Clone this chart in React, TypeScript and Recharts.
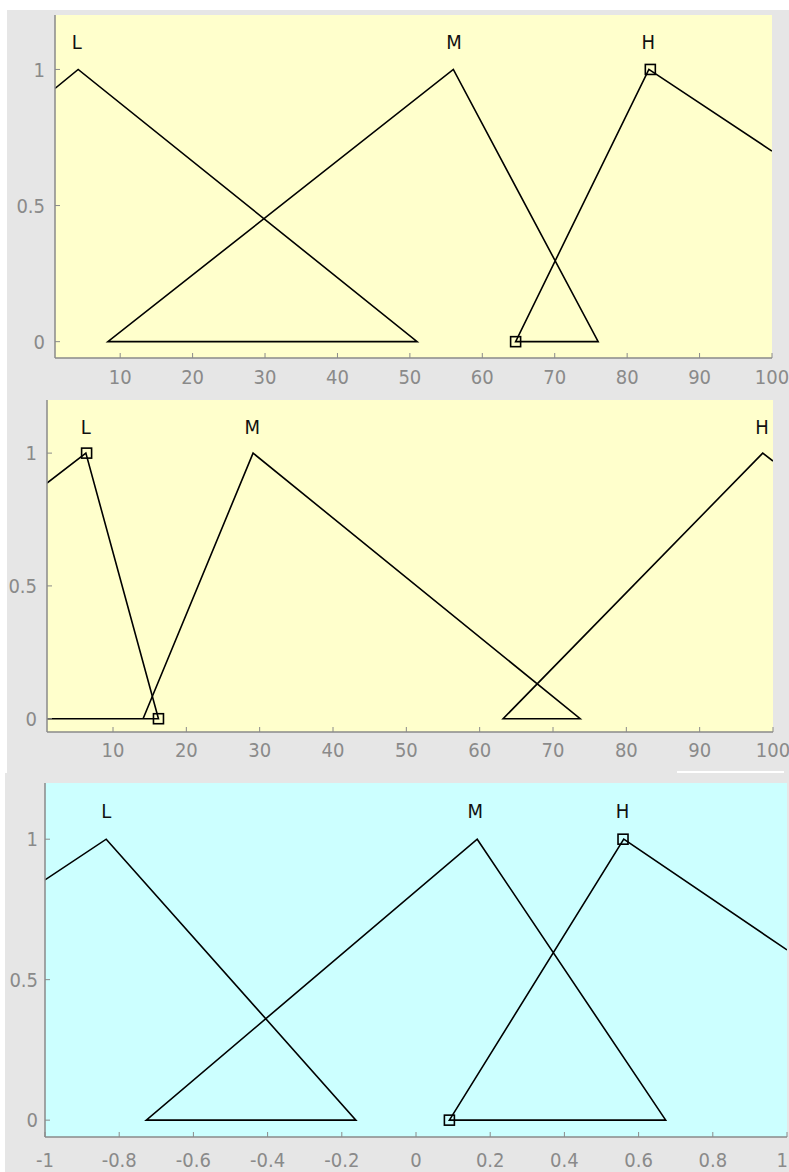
import { ComposedChart, Line, Scatter, XAxis, YAxis, CartesianGrid, ReferenceDot } from 'recharts';

const mfNames = ['L', 'M', 'H'];

// panel 1 - yellow, input 0..100
const p1Curve = [
  { x: 1, y: 0.93 }, { x: 4.2, y: 1 }, { x: 51, y: 0 }, { x: 8.3, y: 0 },
  { x: 56, y: 1 }, { x: 76, y: 0 }, { x: 64.6, y: 0 }, { x: 83, y: 1 }, { x: 100, y: 0.7 },
];
const p1Marks = [{ x: 64.6, y: 0 }, { x: 83.2, y: 1 }];
const p1Peaks = [4.0, 56.1, 82.9];
const p1Ticks = [10, 20, 30, 40, 50, 60, 70, 80, 90, 100];

// panel 2 - yellow, input 0..100
const p2CurveA = [{ x: 1, y: 0.887 }, { x: 6.3, y: 1 }, { x: 16.2, y: 0 }, { x: 1, y: 0 }];
const p2CurveB = [
  { x: 14.1, y: 0 }, { x: 29.1, y: 1 }, { x: 73.7, y: 0 }, { x: 63.2, y: 0 },
  { x: 98.6, y: 1 }, { x: 100, y: 0.97 },
];
const p2Marks = [{ x: 6.4, y: 1 }, { x: 16.2, y: 0 }];
const p2Peaks = [6.3, 29.0, 98.5];

// panel 3 - cyan, output -1..1
const p3Curve = [
  { x: -1, y: 0.855 }, { x: -0.835, y: 1 }, { x: -0.162, y: 0 }, { x: -0.727, y: 0 },
  { x: 0.165, y: 1 }, { x: 0.673, y: 0 }, { x: 0.09, y: 0 }, { x: 0.56, y: 1 }, { x: 1, y: 0.606 },
];
const p3Marks = [{ x: 0.09, y: 0 }, { x: 0.558, y: 1 }];
const p3Peaks = [-0.835, 0.16, 0.557];
const p3Ticks = [-1, -0.8, -0.6, -0.4, -0.2, 0, 0.2, 0.4, 0.6, 0.8, 1];

const yTicks = [0, 0.5, 1];

const FONT = "'Liberation Sans Narrow', 'Arial Narrow', 'DejaVu Sans Condensed', Arial, sans-serif";
const AXIS = '#8a8a8a';
const tickStyle = { fill: AXIS, fontSize: 20, fontFamily: FONT };

const squareShape = (props: any) => (
  <rect x={props.cx - 5} y={props.cy - 5} width={10} height={10} fill="none" stroke="#000" strokeWidth={1.6} />
);

// bottom tick label; the last label of the cyan panel is right-aligned so it stays inside the page
const XTick = ({ x, y, payload, lastEnd }: any) => {
  const atEnd = lastEnd !== undefined && payload.value === lastEnd;
  return (
    <text x={atEnd ? x + 1 : x} y={y} dy="0.71em" textAnchor={atEnd ? 'end' : 'middle'}
      fill={AXIS} fontSize={20} fontFamily={FONT}>
      {payload.value}
    </text>
  );
};

function MfPanel({ top, height, margin, yWidth, xHeight, xMargin, yMargin, domain, yDomain, xTicks, bg, curves, marks, peaks, lastEnd }: any) {
  return (
    <div style={{ position: 'absolute', left: 0, top }}>
      <ComposedChart width={789} height={height} margin={margin}>
        <CartesianGrid horizontal={false} vertical={false} fill={bg} stroke="none" />
        <XAxis type="number" dataKey="x" domain={domain} ticks={xTicks} allowDataOverflow height={xHeight}
          axisLine={{ stroke: AXIS, strokeWidth: 1.5 }} tickLine={{ stroke: AXIS }} tickSize={-5}
          tickMargin={xMargin} tick={<XTick lastEnd={lastEnd} />} interval={0} />
        <XAxis xAxisId="top" orientation="top" type="number" dataKey="x" domain={domain} ticks={xTicks} allowDataOverflow
          height={0} axisLine={{ stroke: AXIS, strokeWidth: 1.5 }} tickLine={{ stroke: AXIS }} tickSize={-5}
          tickFormatter={() => ''} interval={0} />
        <YAxis type="number" dataKey="y" domain={yDomain} ticks={yTicks} allowDataOverflow width={yWidth}
          axisLine={{ stroke: AXIS, strokeWidth: 1.5 }} tickLine={{ stroke: AXIS }} tickSize={-5}
          tickMargin={yMargin} tick={tickStyle} interval={0} />
        <YAxis yAxisId="right" orientation="right" type="number" dataKey="y" domain={yDomain} ticks={yTicks} allowDataOverflow
          width={0} axisLine={{ stroke: AXIS, strokeWidth: 1.5 }} tickLine={{ stroke: AXIS }} tickSize={-5}
          tickFormatter={() => ''} interval={0} />
        {curves.map((c: any, i: number) => (
          <Line key={i} data={c} dataKey="y" type="linear" stroke="#000" strokeWidth={1.6} dot={false}
            isAnimationActive={false} />
        ))}
        <Scatter data={marks} dataKey="y" shape={squareShape} isAnimationActive={false} />
        {peaks.map((px: number, i: number) => (
          <ReferenceDot key={mfNames[i]} x={px} y={1.1} r={0} fill="none" stroke="none"
            label={{ value: mfNames[i], position: 'center', fill: '#111', fontSize: 20, fontFamily: FONT }} />
        ))}
      </ComposedChart>
    </div>
  );
}

export default function App() {
  return (
    <div style={{ position: 'absolute', left: 0, top: 0, width: 789, height: 1172, background: '#fff', overflow: 'hidden' }}>
      <div style={{ position: 'absolute', left: 7, top: 10, width: 782, height: 763, background: '#e6e6e6' }} />
      <div style={{ position: 'absolute', left: 5, top: 773, width: 784, height: 399, background: '#e6e6e6' }} />
      <div style={{ position: 'absolute', left: 677, top: 771, width: 107, height: 2, background: '#fff' }} />
      <MfPanel top={0} height={388} margin={{ top: 15, right: 17, bottom: 0, left: 0 }} yWidth={55} xHeight={30}
        xMargin={17} yMargin={15} domain={[1, 100]} yDomain={[-0.06, 1.2]} xTicks={p1Ticks} bg="#ffffcc"
        curves={[p1Curve]} marks={p1Marks} peaks={p1Peaks} />
      <MfPanel top={385} height={377} margin={{ top: 15, right: 16, bottom: 0, left: 0 }} yWidth={47} xHeight={30}
        xMargin={16} yMargin={15} domain={[1, 100]} yDomain={[-0.05, 1.2]} xTicks={p1Ticks} bg="#ffffcc"
        curves={[p2CurveA, p2CurveB]} marks={p2Marks} peaks={p2Peaks} />
      <MfPanel top={773} height={399} margin={{ top: 10, right: 2, bottom: 0, left: 0 }} yWidth={45} xHeight={35}
        xMargin={21} yMargin={12} domain={[-1, 1]} yDomain={[-0.06, 1.2]} xTicks={p3Ticks} bg="#ccffff"
        curves={[p3Curve]} marks={p3Marks} peaks={p3Peaks} lastEnd={1} />
    </div>
  );
}
